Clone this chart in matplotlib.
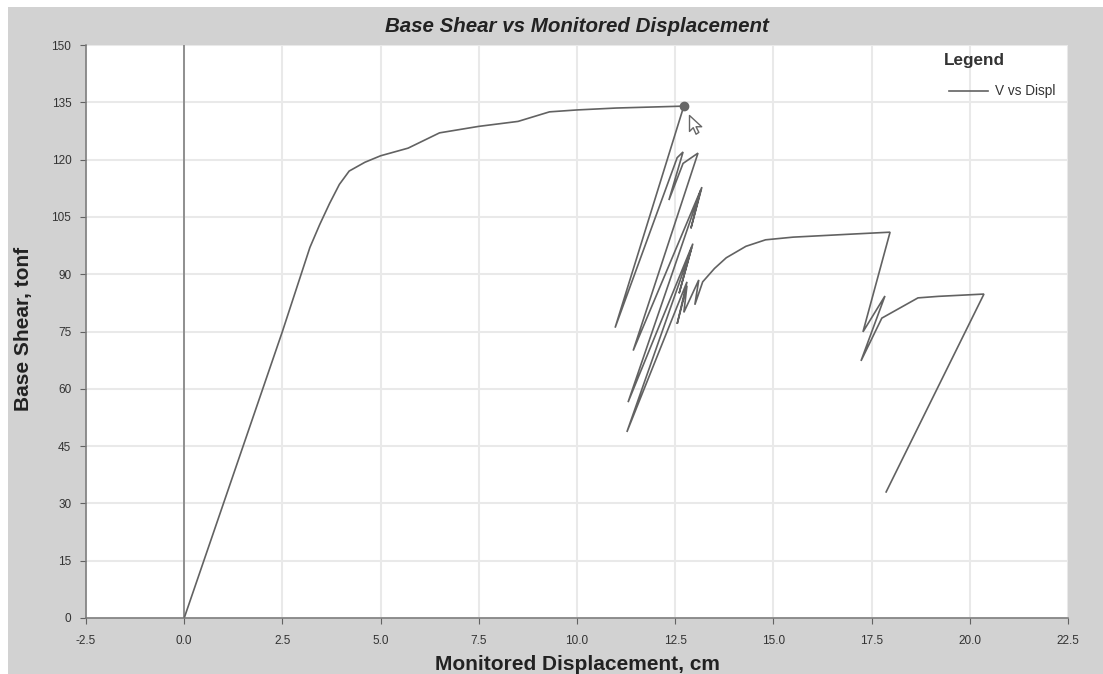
"""Base Shear vs Monitored Displacement - pushover curve."""

import matplotlib
matplotlib.use("Agg")
import matplotlib.pyplot as plt
from matplotlib.path import Path

# Values
DISPL = [0.0, 1.0, 2.5, 3.2, 3.45, 3.7, 3.95, 4.2, 4.6, 5.0, 5.7, 6.5, 7.5, 8.5, 9.3, 10.0, 11.0, 12.72,
         10.97, 12.55, 12.7, 12.34, 12.7, 13.08,
         11.43, 13.18, 12.9, 13.15, 11.3, 12.95, 12.6, 12.92, 11.27,
         12.8, 12.55, 12.8, 12.72, 13.1, 13.0, 13.2,
         13.5, 13.8, 14.3, 14.8, 15.5, 17.0, 17.97,
         17.28, 17.84, 17.23, 17.76, 18.68, 19.2, 20.36, 17.87]
SHEAR = [0.0, 30.0, 75.0, 97.0, 103.0, 108.5, 113.5, 117.0, 119.3, 121.0, 123.0, 127.0, 128.7, 130.0, 132.5, 133.0, 133.5, 134.0,
         76.0, 120.5, 122.0, 109.4, 119.0, 121.7,
         70.0, 112.8, 102.0, 112.0, 56.5, 98.0, 85.0, 97.0, 48.7,
         88.0, 77.0, 87.0, 80.0, 88.5, 82.0, 88.0,
         91.5, 94.3, 97.3, 99.0, 99.7, 100.5, 101.0,
         74.9, 84.3, 67.3, 78.5, 83.8, 84.2, 84.8, 33.0]

X_TICKS = [-2.5, 0.0, 2.5, 5.0, 7.5, 10.0, 12.5, 15.0, 17.5, 20.0, 22.5]
Y_TICKS = [0, 15, 30, 45, 60, 75, 90, 105, 120, 135, 150]
PEAK_X = [12.72]
PEAK_Y = [134.0]

ANCHO, ALTO = 1103, 674
GRIS = "#d2d2d2"
LINEA = "#626262"
TEXTO = "#333333"

plt.rcParams["font.family"] = ["Liberation Sans", "DejaVu Sans"]

fig = plt.figure(figsize=(ANCHO / 100, ALTO / 100), dpi=100, facecolor="white")

# Fondo gris de la ventana (deja un borde blanco a la izquierda y arriba)
fondo = fig.add_axes([8 / ANCHO, 0, 1 - 8 / ANCHO, 1 - 7 / ALTO], facecolor=GRIS)
fondo.set_xticks([])
fondo.set_yticks([])
for spine in fondo.spines.values():
    spine.set_visible(False)

ax = fig.add_axes([86 / ANCHO, 1 - 618 / ALTO, (1068 - 86) / ANCHO, (618 - 45) / ALTO],
                  facecolor="white")
ax.set_xlim(-2.5, 22.5)
ax.set_ylim(0, 150)
ax.set_xticks(X_TICKS, [f"{v:.1f}" for v in X_TICKS])
ax.set_yticks(Y_TICKS)
ax.grid(color="#e9e9e9", linewidth=1.5)
ax.set_axisbelow(True)
ax.tick_params(labelsize=8.5, length=4, width=0.8, color=LINEA, labelcolor=TEXTO)
ax.tick_params(axis="x", pad=8)
ax.tick_params(axis="y", pad=6.5)

for spine in ("top", "right"):
    ax.spines[spine].set_visible(False)
for spine in ("left", "bottom"):
    ax.spines[spine].set_color("#777777")
    ax.spines[spine].set_linewidth(1.1)

# Eje vertical en x = 0
ax.axvline(0, color="#777777", linewidth=1.1)

linea, = ax.plot(DISPL, SHEAR, color=LINEA, linewidth=1.2, label="V vs Displ",
                 solid_joinstyle="miter")
ax.plot(PEAK_X, PEAK_Y, "o", color="#666666", markersize=6, clip_on=False)

# Puntero del mouse al lado del punto seleccionado
cursor = Path([(0, 0), (0, -17), (4, -13), (7, -20), (10, -18), (7, -12), (13, -12), (0, 0)],
              closed=True)
ax.plot([12.85], [131.7], marker=cursor, markersize=27, markerfacecolor="white",
        markeredgecolor="#666666", markeredgewidth=1.0, clip_on=False)

# Leyenda hecha a mano dentro del area de trazado
fig.text(944 / ANCHO, 1 - 61 / ALTO, "Legend", fontsize=12.3, fontweight="bold",
         color=TEXTO, va="center")
ax.legend(handles=[linea], loc="upper right", bbox_to_anchor=(0.997, 0.948), frameon=False,
          fontsize=9.8, handlelength=2.85, handletextpad=0.55, borderaxespad=0.3,
          labelcolor=TEXTO)

fig.text(577 / ANCHO, 1 - 27 / ALTO, "Base Shear vs Monitored Displacement", fontsize=14.8,
         fontweight="bold", fontstyle="italic", color="#222222", ha="center", va="center")
fig.text(577 / ANCHO, 1 - 665 / ALTO, "Monitored Displacement, cm", fontsize=15,
         fontweight="bold", color="#222222", ha="center", va="center")
fig.text(24 / ANCHO, 1 - 329 / ALTO, "Base Shear, tonf", fontsize=15, fontweight="bold",
         color="#222222", rotation=90, ha="center", va="center")

fig.savefig("out.png", dpi=100, facecolor="white")
plt.close(fig)
